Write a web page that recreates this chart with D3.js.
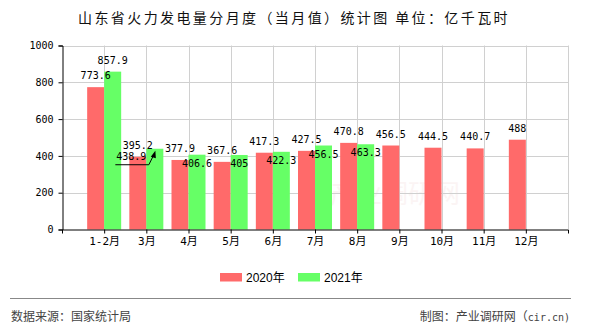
<!DOCTYPE html>
<html>
<head>
<meta charset="utf-8">
<script src="https://cdn.jsdelivr.net/npm/d3@7"></script>
<style>
  html, body { margin: 0; padding: 0; background: #fff; }
  svg { display: block; }
</style>
</head>
<body>
<svg id="chart" width="590" height="330"></svg>
<script>
// ---- data ----
const categories = ["1-2月", "3月", "4月", "5月", "6月", "7月", "8月", "9月", "10月", "11月", "12月"];
const values2020 = [773.6, 395.2, 377.9, 367.6, 417.3, 427.5, 470.8, 456.5, 444.5, 440.7, 488];
const values2021 = [857.9, 438.9, 406.6, 405, 422.3, 456.5, 463.3, null, null, null, null];
const seriesNames = ["2020年", "2021年"];
const yTicks = [0, 200, 400, 600, 800, 1000];
// label placement mode for the 2021 series (as in the original picture)
const label2021Mode = ["above", "callout", "inside", "inside", "inside", "inside", "inside"];

const colors = ["#FF6A6A", "#66FF66"];
const monoFont = "'DejaVu Sans Mono', 'Noto Sans CJK SC', monospace";
const cjkFont = "'Noto Sans CJK SC', 'DejaVu Sans', sans-serif";

const svg = d3.select("#chart");
const plot = { left: 62, right: 568, top: 45.5, bottom: 229.5 };

const x = d3.scalePoint().domain(categories).range([plot.left, plot.right]).padding(1);
const y = d3.scaleLinear().domain([0, 1000]).range([plot.bottom, plot.top]);
const barW = 17;

// title
svg.append("text")
  .attr("x", 294).attr("y", 23)
  .attr("text-anchor", "middle")
  .attr("font-family", cjkFont)
  .attr("font-size", 14)
  .attr("letter-spacing", 2.4)
  .attr("fill", "#111")
  .text("山东省火力发电量分月度（当月值）统计图 单位：亿千瓦时");

// watermark (very faint)
svg.append("text")
  .attr("x", 330).attr("y", 203)
  .attr("font-family", cjkFont)
  .attr("font-size", 26)
  .attr("fill", "#f3d6d6")
  .attr("opacity", 0.25)
  .text("产业调研网");

// grid
const grid = svg.append("g");
grid.selectAll("line.h").data(yTicks.filter(d => d > 0)).enter().append("line")
  .attr("x1", plot.left).attr("x2", plot.right)
  .attr("y1", d => Math.round(y(d)) + 0.5).attr("y2", d => Math.round(y(d)) + 0.5)
  .attr("stroke", "#d0d0d0").attr("stroke-width", 1);
grid.selectAll("line.v").data(categories).enter().append("line")
  .attr("x1", d => Math.round(x(d)) + 0.5).attr("x2", d => Math.round(x(d)) + 0.5)
  .attr("y1", plot.top).attr("y2", plot.bottom)
  .attr("stroke", "#d0d0d0").attr("stroke-width", 1);
grid.append("line")
  .attr("x1", plot.right + 0.5).attr("x2", plot.right + 0.5)
  .attr("y1", plot.top).attr("y2", plot.bottom)
  .attr("stroke", "#d0d0d0");

// bars
const bars = svg.append("g");
bars.selectAll("rect.s0").data(values2020.map((v, i) => ({ v, c: categories[i] }))).enter()
  .append("rect")
  .attr("x", d => x(d.c) - barW)
  .attr("width", barW)
  .attr("y", d => y(d.v))
  .attr("height", d => y(0) - y(d.v))
  .attr("fill", colors[0]);
bars.selectAll("rect.s1").data(values2021.map((v, i) => ({ v, c: categories[i] })).filter(d => d.v != null)).enter()
  .append("rect")
  .attr("x", d => x(d.c))
  .attr("width", barW)
  .attr("y", d => y(d.v))
  .attr("height", d => y(0) - y(d.v))
  .attr("fill", colors[1]);

// axes
const yAxis = d3.axisLeft(y).tickValues(yTicks).tickSize(4).tickPadding(5).tickFormat(d3.format("d"));
const gy = svg.append("g").attr("transform", `translate(${plot.left + 0.5},0)`).call(yAxis);
gy.select(".domain").attr("stroke", "#000");
gy.selectAll(".tick line").attr("stroke", "#000");
gy.selectAll(".tick text").attr("font-family", monoFont).attr("font-size", 10).attr("fill", "#000");

const xAxis = d3.axisBottom(x).tickSize(4).tickSizeOuter(4).tickPadding(4);
const gx = svg.append("g").attr("transform", `translate(0,${plot.bottom})`).call(xAxis);
gx.select(".domain").attr("stroke", "#000");
gx.selectAll(".tick line").attr("stroke", "#000");
gx.selectAll(".tick text").attr("font-family", monoFont).attr("font-size", 11).attr("fill", "#000");

// value labels
const labels = svg.append("g")
  .attr("font-family", monoFont).attr("font-size", 10).attr("fill", "#000")
  .attr("text-anchor", "middle");
values2020.forEach((v, i) => {
  labels.append("text")
    .attr("x", x(categories[i]) - barW / 2)
    .attr("y", y(v) - 8)
    .text(v);
});
values2021.forEach((v, i) => {
  if (v == null) return;
  const cx = x(categories[i]);
  const mode = label2021Mode[i];
  if (mode === "above") {
    labels.append("text").attr("x", cx + barW / 2).attr("y", y(v) - 8).text(v);
  } else if (mode === "inside") {
    labels.append("text").attr("x", cx + barW / 2).attr("y", y(v) + 12).text(v);
  } else {
    // callout with leader line and arrow
    const tipX = cx + 9, tipY = y(v) + 2;
    const elbowX = cx + 2.5, lineY = y(v) + 16;
    labels.append("text").attr("x", cx - 15).attr("y", y(v) + 11.5).text(v);
    svg.append("path")
      .attr("d", `M${cx - 31},${lineY}L${elbowX},${lineY}L${tipX - 2},${tipY + 5}`)
      .attr("fill", "none").attr("stroke", "#000").attr("stroke-width", 1);
    svg.append("path")
      .attr("d", `M${tipX},${tipY}L${tipX - 4.5},${tipY + 6}L${tipX + 0.5},${tipY + 7.5}Z`)
      .attr("fill", "#000");
  }
});

// legend
const legend = svg.append("g");
const legendX = [220, 298];
seriesNames.forEach((name, i) => {
  legend.append("rect").attr("x", legendX[i]).attr("y", 273).attr("width", 22).attr("height", 8.5).attr("fill", colors[i]);
  legend.append("text").attr("x", legendX[i] + 26).attr("y", 282)
    .attr("font-family", "'Liberation Sans', 'Noto Sans CJK SC', sans-serif")
    .attr("font-size", 12).attr("fill", "#000").text(name);
});

// footer
svg.append("line").attr("x1", 10).attr("x2", 571).attr("y1", 298.5).attr("y2", 298.5)
  .attr("stroke", "#888").attr("stroke-width", 1);
svg.append("text").attr("x", 11).attr("y", 321)
  .attr("font-family", cjkFont).attr("font-size", 12).attr("fill", "#444")
  .text("数据来源：国家统计局");
const ft = svg.append("text").attr("x", 570).attr("y", 321).attr("text-anchor", "end")
  .attr("font-family", cjkFont).attr("font-size", 12).attr("fill", "#444");
ft.append("tspan").text("制图：产业调研网（");
ft.append("tspan").attr("font-family", monoFont).attr("font-size", 10).text("cir.cn)");
</script>
</body>
</html>
